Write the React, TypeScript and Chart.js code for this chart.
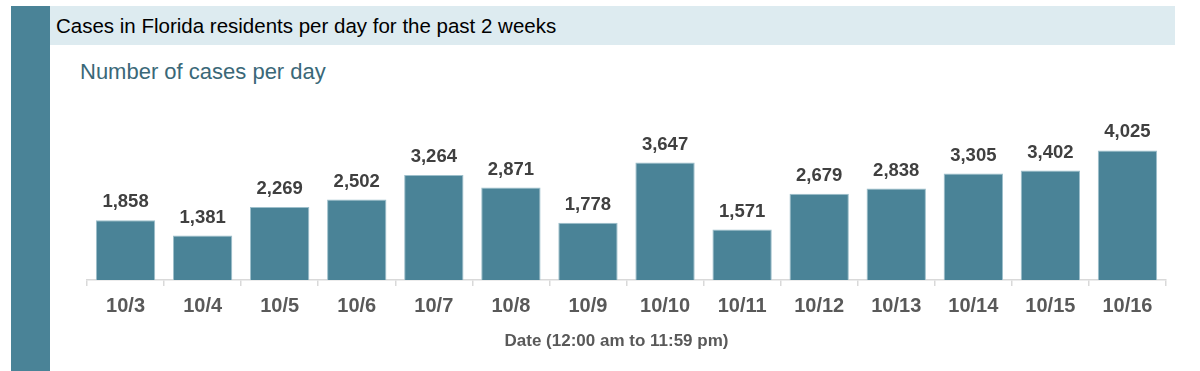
import React, { useEffect, useRef } from "react";
import { Chart, registerables } from "chart.js";

Chart.register(...registerables);

const categories: string[] = ["10/3", "10/4", "10/5", "10/6", "10/7", "10/8", "10/9", "10/10", "10/11", "10/12", "10/13", "10/14", "10/15", "10/16"];
const casesPerDay: number[] = [1858, 1381, 2269, 2502, 3264, 2871, 1778, 3647, 1571, 2679, 2838, 3305, 3402, 4025];
const headerTitle = "Cases in Florida residents per day for the past 2 weeks";
const chartSubtitle = "Number of cases per day";
const xAxisTitle = "Date (12:00 am to 11:59 pm)";

const FONT = "'Liberation Sans', Arial, sans-serif";

const valueLabelPlugin = {
  id: "valueLabels",
  afterDatasetsDraw(chart: any) {
    const ctx = chart.ctx;
    const meta = chart.getDatasetMeta(0);
    const data = chart.data.datasets[0].data as number[];
    ctx.save();
    ctx.font = `bold 18.5px ${FONT}`;
    ctx.fillStyle = "#404040";
    ctx.textAlign = "center";
    ctx.textBaseline = "middle";
    meta.data.forEach((bar: any, i: number) => {
      ctx.fillText(data[i].toLocaleString("en-US"), bar.x, bar.y - 18);
    });
    ctx.restore();
  },
};

const axisTitlePlugin = {
  id: "axisTitle",
  afterDraw(chart: any) {
    const ctx = chart.ctx;
    const area = chart.chartArea;
    ctx.save();
    ctx.font = `bold 17px ${FONT}`;
    ctx.fillStyle = "#595959";
    ctx.textAlign = "center";
    ctx.textBaseline = "middle";
    ctx.fillText(xAxisTitle, (area.left + area.right) / 2 - 10, area.bottom + 61);
    ctx.restore();
  },
};

export default function App() {
  const canvasRef = useRef<HTMLCanvasElement | null>(null);

  useEffect(() => {
    document.body.style.margin = "0";
    if (!canvasRef.current) return;
    const chart = new Chart(canvasRef.current, {
      type: "bar",
      data: {
        labels: categories,
        datasets: [
          {
            data: casesPerDay,
            backgroundColor: "#4a8397",
            borderColor: "#9dbfcb",
            borderWidth: 1,
            barPercentage: 0.77,
            categoryPercentage: 1,
          },
        ],
      },
      options: {
        animation: false,
        responsive: false,
        maintainAspectRatio: false,
        layout: { padding: { left: 37, right: 34, top: 29, bottom: 45 } },
        plugins: {
          legend: { display: false },
          tooltip: { enabled: false },
          title: { display: false },
        },
        scales: {
          x: {
            grid: {
              display: true,
              drawOnChartArea: false,
              drawTicks: true,
              tickLength: 6,
              color: "#d9d9d9",
              lineWidth: 1.5,
            },
            border: { display: true, color: "#d9d9d9", width: 1.5 },
            ticks: {
              color: "#595959",
              font: { family: FONT, size: 20, weight: "bold" },
              padding: 8,
              maxRotation: 0,
              autoSkip: false,
            },
            title: { display: false },
          },
          y: {
            display: false,
            min: 0,
            max: 5000,
          },
        },
      },
      plugins: [valueLabelPlugin, axisTitlePlugin],
    });
    return () => chart.destroy();
  }, []);

  return (
    <div style={{ position: "fixed", left: 0, top: 0, width: 1200, height: 371, background: "#ffffff", overflow: "hidden", fontFamily: FONT }}>
      <div style={{ position: "absolute", left: 11, top: 6, width: 39, height: 365, background: "#4a8397" }} />
      <div style={{ position: "absolute", left: 50, top: 6, width: 1125, height: 39, background: "#ddebf0" }} />
      <div style={{ position: "absolute", left: 56, top: 6, height: 39, lineHeight: "39px", fontSize: 20.5, color: "#000000", whiteSpace: "nowrap" }}>{headerTitle}</div>
      <div style={{ position: "absolute", left: 80, top: 57, height: 30, lineHeight: "30px", fontSize: 22, color: "#3a6878", whiteSpace: "nowrap" }}>{chartSubtitle}</div>
      <canvas ref={canvasRef} width={1150} height={281} style={{ position: "absolute", left: 50, top: 90, width: 1150, height: 281 }} />
    </div>
  );
}
